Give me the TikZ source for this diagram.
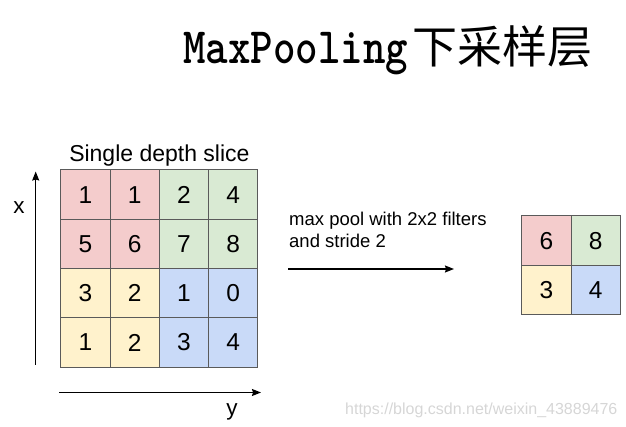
\documentclass[tikz,border=0pt]{standalone}
\usepackage{fontspec}
\setmainfont{Liberation Sans}
\newfontfamily\cjk{Noto Sans CJK SC}
\usetikzlibrary{arrows.meta,positioning}
\definecolor{CellRed}{HTML}{F4CCCC}
\definecolor{CellGreen}{HTML}{D9EAD3}
\definecolor{CellYellow}{HTML}{FFF2CC}
\definecolor{CellBlue}{HTML}{C9DAF8}
\definecolor{GridLine}{HTML}{5A5A5A}
\definecolor{Watermark}{HTML}{D6D6D6}
\tikzset{
  cell/.style={draw=GridLine, line width=1pt, minimum size=49.3pt, inner sep=0pt, font=\fontsize{24.5}{24.5}\selectfont},
  axislabel/.style={anchor=base, inner sep=0pt, font=\fontsize{22.5}{22.5}\selectfont},
  caption/.style={anchor=base, inner sep=0pt, font=\fontsize{23}{23}\selectfont},
  note/.style={anchor=north west, inner sep=0pt, align=left, font=\fontsize{18.5}{22.6}\selectfont},
  arrow/.style={-{Stealth[length=9pt, width=7pt, inset=1pt]}, line width=1.3pt, draw=black}
}

\begin{document}
\begin{tikzpicture}[x=1pt, y=-1pt]
    \useasboundingbox (0,0) rectangle (626,427);

    % title
    \node[anchor=base west, inner sep=0pt] (title) at (183,64)
      {\scalebox{0.84}[1]{\ttfamily\bfseries\fontsize{51}{51}\selectfont MaxPooling}\hspace{4pt}\cjk\fontsize{45}{45}\selectfont 下采样层};

    % input slice
    \foreach \v/\col [count=\k from 0] in {1/CellRed,1/CellRed,2/CellGreen,4/CellGreen,
                                            5/CellRed,6/CellRed,7/CellGreen,8/CellGreen,
                                            3/CellYellow,2/CellYellow,1/CellBlue,0/CellBlue,
                                            1/CellYellow,2/CellYellow,3/CellBlue,4/CellBlue} {
      \pgfmathtruncatemacro{\r}{\k/4}
      \pgfmathtruncatemacro{\c}{mod(\k,4)}
      \node[cell, fill=\col] (big-\r-\c) at ({85.35+49.3*\c},{194.65+49.3*\r}) {\v};
    }
    \node[caption] (slice) at (159.4,161.7) {Single depth slice};

    % axes
    \coordinate (xtail) at (35.7,364.5);
    \coordinate (xhead) at (35.7,171.5);
    \coordinate (ytail) at (59,392.5);
    \coordinate (yhead) at (261,392.5);
    \draw[arrow] (xtail) -- (xhead);
    \draw[arrow] (ytail) -- (yhead);
    \node[axislabel] (xlab) at (19,213.3) {x};
    \node[axislabel] (ylab) at (232,415.7) {y};

    % pooling step
    \node[note] (rule) at (289,211.5) {max pool with 2x2 filters\\and stride 2};
    \coordinate (poolfrom) at (288,269);
    \coordinate (poolto) at (454,269);
    \draw[arrow] (poolfrom) -- (poolto);

    % output
    \foreach \v/\col [count=\k from 0] in {6/CellRed,8/CellGreen,3/CellYellow,4/CellBlue} {
      \pgfmathtruncatemacro{\r}{\k/2}
      \pgfmathtruncatemacro{\c}{mod(\k,2)}
      \node[cell, fill=\col] (pool-\r-\c) at ({546.35+49.3*\c},{240.65+49.3*\r}) {\v};
    }

    \node[anchor=base west, inner sep=0pt, text=Watermark, font=\fontsize{16}{16}\selectfont] (mark) at (345,414) {https://blog.csdn.net/weixin\_43889476};
  \end{tikzpicture}
\end{document}
